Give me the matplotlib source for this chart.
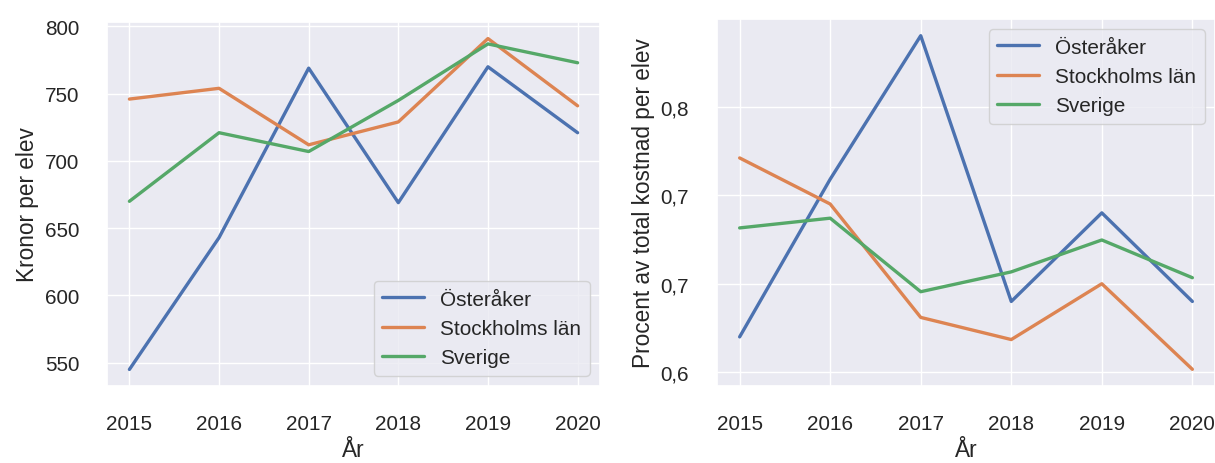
import matplotlib
matplotlib.use("Agg")
import matplotlib.pyplot as plt
import seaborn as sns
from matplotlib.ticker import MultipleLocator, FuncFormatter

years = [2015, 2016, 2017, 2018, 2019, 2020]
series_names = ["Österåker", "Stockholms län", "Sverige"]

kronor_osteraker = [545, 643, 769, 669, 770, 721]
kronor_stockholm = [746, 754, 712, 729, 791, 741]
kronor_sverige = [670, 721, 707, 745, 787, 773]

procent_osteraker = [0.620, 0.709, 0.790, 0.640, 0.690, 0.640]
procent_stockholm = [0.721, 0.695, 0.631, 0.6185, 0.650, 0.6017]
procent_sverige = [0.6815, 0.687, 0.6455, 0.6567, 0.6747, 0.6534]

sns.set_theme(style="darkgrid", font_scale=1.36)
plt.rcParams['font.family'] = ['Liberation Sans', 'DejaVu Sans']

fig = plt.figure(figsize=(12.15, 4.64), dpi=100)
ax1 = fig.add_axes([107 / 1215, 77 / 464, 493 / 1215, 364 / 464])
ax2 = fig.add_axes([717 / 1215, 77 / 464, 498 / 1215, 367 / 464])

for vals, name in zip([kronor_osteraker, kronor_stockholm, kronor_sverige], series_names):
    ax1.plot(years, vals, label=name, linewidth=2.4)
ax1.set_xlabel("År")
ax1.set_ylabel("Kronor per elev")
ax1.legend(loc="lower right")
ax1.yaxis.set_major_locator(MultipleLocator(50))

for vals, name in zip([procent_osteraker, procent_stockholm, procent_sverige], series_names):
    ax2.plot(years, vals, label=name, linewidth=2.4)
ax2.set_xlabel("År")
ax2.set_ylabel("Procent av total kostnad per elev")
ax2.legend(loc="upper right")
ax2.yaxis.set_major_locator(MultipleLocator(0.05))
ax2.yaxis.set_major_formatter(FuncFormatter(lambda v, p: f"{v:.1f}".replace(".", ",")))

for ax in (ax1, ax2):
    ax.set_xticks(years)
    ax.tick_params(axis="both", pad=14)

fig.savefig("out.png", dpi=100)
